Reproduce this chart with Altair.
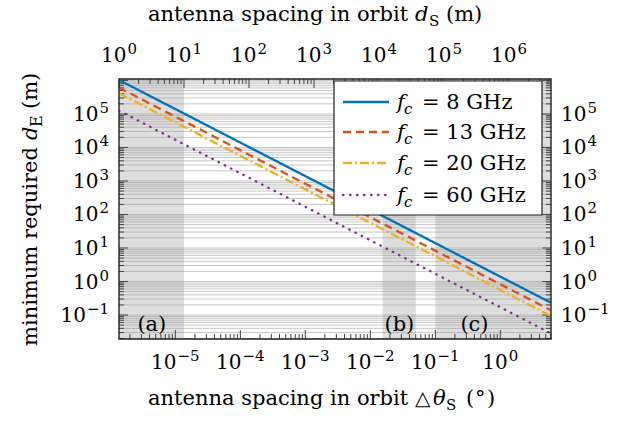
import altair as alt
import pandas as pd

# ---- plot geometry -------------------------------------------------------
W, H = 432, 260
SERIF = "DejaVu Serif"
M_PER_DEG = 7.359e5  # metres of GEO arc per degree

# ---- series: d_E (m) read at d_S = 1 m and at the right edge d_S = 4.43e6 m
freq_labels = ["8", "13", "20", "60"]
ds_span = [1.0, 4.43e6]
de_at_start = [1.03e6, 6.1e5, 4.14e5, 1.25e5]
de_at_end = [0.232, 0.138, 0.0935, 0.0283]
line_colors = ["#0072BD", "#D95319", "#EDB120", "#7E2F8E"]
line_dashes = [[1, 0], [8, 5], [9, 3, 2, 3], [0.5, 6.5]]

# ---- shaded regions ------------------------------------------------------
region_a_m = [1.0, 10.0]        # metres
region_b_deg = [0.0155, 0.05]   # degrees
region_c_deg = [0.1, 6.02]      # degrees
region_names = ["(a)", "(b)", "(c)"]
region_label_deg = [3.2 / M_PER_DEG, 0.028, 0.4]

# ---- axes ----------------------------------------------------------------
top_exps = [0, 1, 2, 3, 4, 5, 6]
bottom_exps = [-5, -4, -3, -2, -1, 0]
y_exps = [-1, 0, 1, 2, 3, 4, 5]
x_domain = [1.0, 4.43e6]
y_domain = [10 ** -1.715, 10 ** 6.043]

BASE_W = 25.4        # width of "10" at 20 px
EXP_SIZE = 15
EXP_W = {False: 9.5, True: 22.1}   # exponent width: single digit / minus + digit


def exp_text(e):
    return str(e).replace("-", "\u2212")


def in_range(v, lo, hi):
    return lo * 0.999 <= v <= hi * 1.001


def decade_ticks(first, last, lo, hi):
    major, minor = [], []
    for d in range(first, last + 1):
        for k in range(1, 10):
            v = k * 10.0 ** d
            if in_range(v, lo, hi):
                (major if k == 1 else minor).append(v)
    return major, minor


xs = alt.Scale(type="log", domain=x_domain)
ys = alt.Scale(type="log", domain=y_domain)
one = pd.DataFrame({"k": [0]})
layers = []

# shaded bands
shade = pd.DataFrame({
    "x": [region_a_m[0], region_b_deg[0] * M_PER_DEG, region_c_deg[0] * M_PER_DEG],
    "x2": [region_a_m[1], region_b_deg[1] * M_PER_DEG, min(region_c_deg[1] * M_PER_DEG, x_domain[1])],
})
layers.append(alt.Chart(shade).mark_rect(color="#dedede").encode(
    x=alt.X("x:Q", scale=xs, axis=None), x2="x2:Q",
    y=alt.value(0), y2=alt.value(H)))

# horizontal grid at every major and minor y tick
ymaj, ymin = decade_ticks(-2, 6, *y_domain)
grid = pd.DataFrame({"y": ymaj + ymin})
layers.append(alt.Chart(grid).mark_rule(color="#999999", opacity=0.55, strokeWidth=1).encode(
    y=alt.Y("y:Q", scale=ys, axis=None), x=alt.value(0), x2=alt.value(W)))

# inward tick marks on the four sides
TICK_COL = "#444444"
tmaj, tmin = decade_ticks(0, 6, *x_domain)
bmaj_deg, bmin_deg = decade_ticks(-6, 0, x_domain[0] / M_PER_DEG, x_domain[1] / M_PER_DEG)
bmaj = [v * M_PER_DEG for v in bmaj_deg]
bmin = [v * M_PER_DEG for v in bmin_deg]
for vals, length in [(tmaj, 9), (tmin, 5)]:
    layers.append(alt.Chart(pd.DataFrame({"x": vals})).mark_rule(color=TICK_COL, strokeWidth=1).encode(
        x=alt.X("x:Q", scale=xs, axis=None), y=alt.value(0), y2=alt.value(length)))
for vals, length in [(bmaj, 9), (bmin, 5)]:
    layers.append(alt.Chart(pd.DataFrame({"x": vals})).mark_rule(color=TICK_COL, strokeWidth=1).encode(
        x=alt.X("x:Q", scale=xs, axis=None), y=alt.value(H), y2=alt.value(H - length)))
for vals, length in [(ymaj, 9), (ymin, 5)]:
    layers.append(alt.Chart(pd.DataFrame({"y": vals})).mark_rule(color=TICK_COL, strokeWidth=1).encode(
        y=alt.Y("y:Q", scale=ys, axis=None), x=alt.value(0), x2=alt.value(length)))
    layers.append(alt.Chart(pd.DataFrame({"y": vals})).mark_rule(color=TICK_COL, strokeWidth=1).encode(
        y=alt.Y("y:Q", scale=ys, axis=None), x=alt.value(W), x2=alt.value(W - length)))

# region labels
reg = pd.DataFrame({"x": [v * M_PER_DEG for v in region_label_deg], "t": region_names})
layers.append(alt.Chart(reg).mark_text(font=SERIF, fontSize=21, baseline="alphabetic", color="black").encode(
    x=alt.X("x:Q", scale=xs, axis=None), y=alt.value(252), text="t:N"))

# the four d_E curves
for name, a, b, col, dash in zip(freq_labels, de_at_start, de_at_end, line_colors, line_dashes):
    df = pd.DataFrame({"x": ds_span, "y": [a, b]})
    cap = "round" if dash == [0.5, 6.5] else "butt"
    layers.append(alt.Chart(df).mark_line(color=col, strokeWidth=2.3, strokeDash=dash, strokeCap=cap, clip=True).encode(
        x=alt.X("x:Q", scale=xs, axis=None), y=alt.Y("y:Q", scale=ys, axis=None)))

# frame
layers.append(alt.Chart(one).mark_rect(fill=None, stroke="#222222", strokeWidth=1.4).encode(
    x=alt.value(0), x2=alt.value(W), y=alt.value(0), y2=alt.value(H)))


# ---- tick labels: "10" with a raised exponent --------------------------
def lab(df, size, align, dx, dy, **enc):
    return alt.Chart(df).mark_text(font=SERIF, fontSize=size, baseline="alphabetic", align=align,
                                   dx=dx, dy=dy, color="black").encode(text="t:N", **enc)


def x_power_labels(exps, to_x, ybase):
    out = []
    for neg in (False, True):
        sub = [e for e in exps if (e < 0) == neg]
        if not sub:
            continue
        df = pd.DataFrame({"x": [to_x(e) for e in sub], "b": ["10"] * len(sub),
                           "t": [exp_text(e) for e in sub]})
        total = BASE_W + 1 + EXP_W[neg]
        base_end = -total / 2 + BASE_W
        xenc = alt.X("x:Q", scale=xs, axis=None)
        out.append(alt.Chart(df).mark_text(font=SERIF, fontSize=20, baseline="alphabetic", align="right",
                                           dx=base_end, color="black").encode(
            x=xenc, y=alt.value(ybase), text="b:N"))
        out.append(lab(df, EXP_SIZE, "left", base_end + 1, -8, x=xenc, y=alt.value(ybase)))
    return out


layers += x_power_labels(top_exps, lambda e: 10.0 ** e, -17)
layers += x_power_labels(bottom_exps, lambda e: 10.0 ** e * M_PER_DEG, 290)

for neg in (False, True):
    sub = [e for e in y_exps if (e < 0) == neg]
    df = pd.DataFrame({"y": [10.0 ** e for e in sub], "b": ["10"] * len(sub),
                       "t": [exp_text(e) for e in sub]})
    yenc = alt.Y("y:Q", scale=ys, axis=None)
    ew = EXP_W[neg]
    # left side, right-aligned
    layers.append(alt.Chart(df).mark_text(font=SERIF, fontSize=20, baseline="alphabetic", align="right",
                                          dy=7, color="black").encode(
        y=yenc, x=alt.value(-10 - ew - 1), text="b:N"))
    layers.append(lab(df, EXP_SIZE, "right", 0, -1, y=yenc, x=alt.value(-10)))
    # right side, left-aligned
    layers.append(alt.Chart(df).mark_text(font=SERIF, fontSize=20, baseline="alphabetic", align="left",
                                          dy=7, color="black").encode(
        y=yenc, x=alt.value(W + 10), text="b:N"))
    layers.append(lab(df, EXP_SIZE, "left", 0, -1, y=yenc, x=alt.value(W + 10 + BASE_W + 1)))


def txt(s, x, y, size=21, style="normal", font=SERIF, angle=0):
    return alt.Chart(one).mark_text(text=s, font=font, fontSize=size, fontStyle=style, align="left",
                                    baseline="alphabetic", angle=angle, color="black").encode(
        x=alt.value(x), y=alt.value(y))


# legend
layers.append(alt.Chart(one).mark_rect(fill="white", stroke="#222222", strokeWidth=1.2).encode(
    x=alt.value(215), x2=alt.value(423), y=alt.value(2), y2=alt.value(136)))
legend_rows = [23, 53, 84, 116]
for name, col, dash, ry in zip(freq_labels, line_colors, line_dashes, legend_rows):
    cap = "round" if dash == [0.5, 6.5] else "butt"
    layers.append(alt.Chart(one).mark_rule(color=col, strokeWidth=2.3, strokeDash=dash, strokeCap=cap).encode(
        x=alt.value(224), x2=alt.value(270), y=alt.value(ry)))
    layers.append(txt("f", 278, ry + 7, style="italic"))
    layers.append(txt("c", 285, ry + 12, size=15, style="italic"))
    layers.append(txt("= " + name + " GHz", 303, ry + 7))

# bottom title: antenna spacing in orbit Δθ_S (°)
layers += [
    txt("antenna spacing in orbit", 29, 326),
    txt("△", 296, 326, size=20, font="DejaVu Sans"),
    txt("θ", 314, 326, style="italic"),
    txt("S", 327, 331, size=15),
    txt("(", 347, 326),
    txt("°", 356, 326),
    txt(")", 368, 326),
]
# top title: antenna spacing in orbit d_S (m)
layers += [
    txt("antenna spacing in orbit", 29, -58),
    txt("d", 296, -58, style="italic"),
    txt("S", 310, -53, size=15),
    txt("(m)", 327, -58),
]
# y title: minimum required d_E (m)
layers += [
    txt("minimum required", -82, 267, angle=270),
    txt("d", -82, 61, style="italic", angle=270),
    txt("E", -77, 48, size=16, angle=270),
    txt("(m)", -82, 30, angle=270),
]

chart = alt.layer(*layers).properties(
    width=W, height=H, autosize="none", background="white",
    padding={"left": 119, "top": 79, "right": 75, "bottom": 82},
).configure_view(stroke=None)

chart.save("out.html", embed_options={"renderer": "svg", "actions": False})
